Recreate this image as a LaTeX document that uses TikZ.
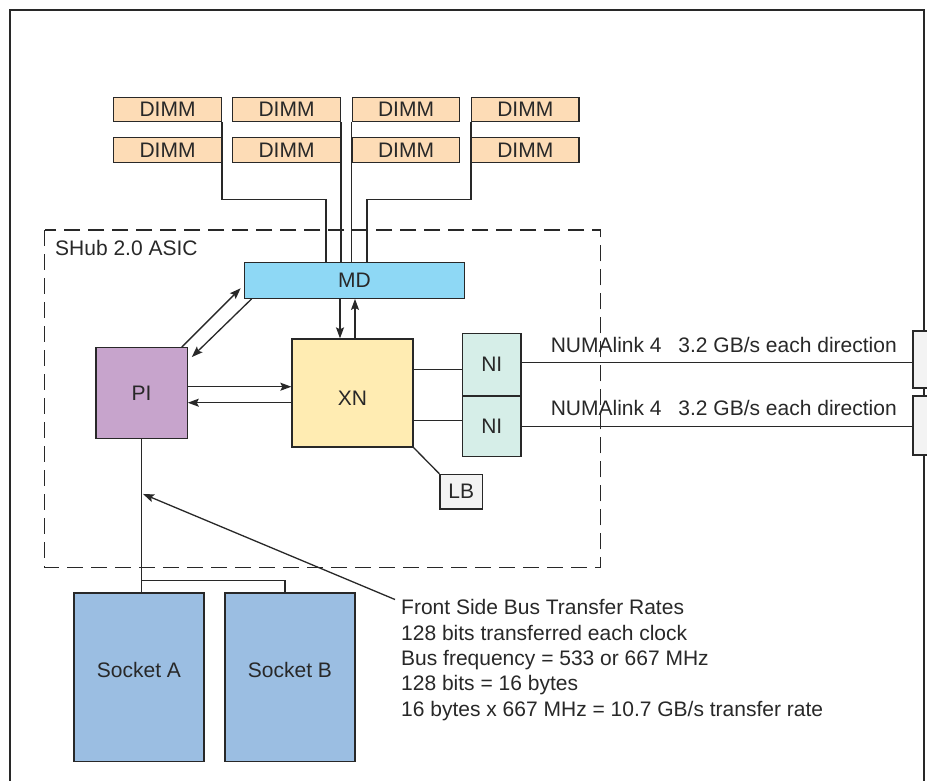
\documentclass[tikz,border=0pt]{standalone}
\usepackage{fontspec}
\setmainfont{Liberation Sans}
\usetikzlibrary{arrows.meta}

\definecolor{dimmfill}{RGB}{253,220,182}
\definecolor{mdfill}{RGB}{142,216,245}
\definecolor{pifill}{RGB}{199,164,204}
\definecolor{xnfill}{RGB}{255,236,178}
\definecolor{nifill}{RGB}{214,238,232}
\definecolor{lbfill}{RGB}{243,243,243}
\definecolor{sockfill}{RGB}{155,190,226}
\definecolor{ink}{RGB}{40,40,40}

\begin{document}
\begin{tikzpicture}[x=1pt, y=-1pt,
    every node/.style={font=\fontsize{21}{25.3}\selectfont, text=ink},
    box/.style={draw=ink, line width=1.3pt, inner sep=0pt},
    dimm/.style={box, fill=dimmfill, minimum width=107.5pt, minimum height=24.5pt},
    wire/.style={draw=ink, line width=1.3pt},
    arr/.style={wire, -{Stealth[length=11pt, width=8pt, inset=2pt]}}]
    \useasboundingbox (0,0) rectangle (927,780);
    \clip (0,0) rectangle (927,780);
    \fill[white] (0,0) rectangle (927,780);

    % outer frame
    \draw[ink, line width=1.4pt] (10,810) -- (10,10) -- (924,10) -- (924,810);

    % memory
    \node[dimm] (d11) at (167.5,109.5) {DIMM};
    \node[dimm] (d12) at (286.5,109.5) {DIMM};
    \node[dimm] (d13) at (406,109.5) {DIMM};
    \node[dimm] (d14) at (525.3,109.5) {DIMM};
    \node[dimm] (d21) at (167.5,150) {DIMM};
    \node[dimm] (d22) at (286.5,150) {DIMM};
    \node[dimm] (d23) at (406,150) {DIMM};
    \node[dimm] (d24) at (525.3,150) {DIMM};

    % the hub
    \draw[wire, dash pattern=on 16pt off 8pt] (44.7,230) rectangle (600.7,567.7);
    \node[anchor=west, inner sep=0pt] (asic) at (55,248) {SHub 2.0 ASIC};

    \node[box, fill=mdfill, minimum width=220.5pt, minimum height=35.5pt] (md) at (354.5,280.5) {MD};
    \node[box, fill=pifill, minimum width=91.3pt, minimum height=91pt] (pi) at (141.5,393.2) {PI};
    \node[box, fill=xnfill, minimum width=121pt, minimum height=108pt] (xn) at (352.5,393) {\raisebox{-5pt}[\height][\depth]{XN}};
    \node[box, fill=nifill, minimum width=58.3pt, minimum height=62.7pt] (ni1) at (491.8,364.7) {NI};
    \node[box, fill=nifill, minimum width=58.3pt, minimum height=60.7pt] (ni2) at (491.8,426.3) {NI};
    \node[box, fill=lbfill, minimum width=42.7pt, minimum height=34.7pt] (lb) at (461.3,491.7) {LB};
    \node[box, fill=lbfill, minimum width=30pt, minimum height=57pt] (r1) at (928,359.5) {};
    \node[box, fill=lbfill, minimum width=30pt, minimum height=59pt] (r2) at (928,425.5) {};

    % processors
    \node[box, fill=sockfill, minimum width=130pt, minimum height=168.3pt] (sa) at (139,677) {\raisebox{7pt}[\height][\depth]{Socket A}};
    \node[box, fill=sockfill, minimum width=130pt, minimum height=168.3pt] (sb) at (290,677) {\raisebox{7pt}[\height][\depth]{Socket B}};

    % DIMM buses
    \draw[wire] (d11.south east) -- ++(0,77.3) -| ([xshift=-28.5pt]md.north);
    \draw[wire] (d12.south east) -- (d12.south east |- md.north);
    \draw[wire] (d13.south west) -- (d13.south west |- md.north);
    \draw[wire] (d14.south west) -- ++(0,77.3) -| ([xshift=12.5pt]md.north);

    \draw[arr] ([xshift=-14.5pt]md.south) -- ([xshift=-14.5pt]md.south |- xn.north);
    \draw[arr] ([xshift=0.5pt]md.south |- xn.north) -- ([xshift=0.5pt]md.south);
    \draw[arr] ([xshift=-6pt]pi.north east) -- ([xshift=-3pt,yshift=-7.8pt]md.west);
    \draw[arr] ([xshift=8pt]md.south west) -- ([xshift=4pt,yshift=-10pt]pi.north east);
    \draw[arr] ([yshift=6.5pt]pi.east) -- ([yshift=6.5pt]pi.east -| xn.west);
    \draw[arr] ([yshift=-9.5pt]pi.east -| xn.west) -- ([yshift=-9.5pt]pi.east);

    \draw[wire] ([yshift=23.7pt]xn.east) -- ([yshift=23.7pt]xn.east -| ni1.west);
    \draw[wire] ([yshift=-27.7pt]xn.east) -- ([yshift=-27.7pt]xn.east -| ni2.west);
    \draw[wire] ([yshift=2pt]ni1.east) -- ([yshift=2pt]ni1.east -| r1.west);
    \draw[wire] (ni2.east) -- (ni2.east -| r2.west);
    \draw[wire] (xn.south east) -- (lb.north west);

    \node[anchor=base west, inner sep=0pt] (nl1) at ([xshift=29pt,yshift=12pt]ni1.east) {NUMAlink 4\hspace{0.8em}3.2 GB/s each direction};
    \node[anchor=base west, inner sep=0pt] (nl2) at ([xshift=29pt,yshift=11.3pt]ni2.east) {NUMAlink 4\hspace{0.8em}3.2 GB/s each direction};

    % front side bus
    \coordinate (fork) at ([yshift=-141.3pt]pi.south);
    \coordinate (tap) at ([xshift=1.5pt,yshift=-54.6pt]pi.south);
    \draw[wire] (pi.south) -- (pi.south |- sa.north);
    \draw[wire] (fork) -| ([xshift=-5pt]sb.north);

    \node[anchor=north west, align=left, inner sep=0pt] (fsb) at (401,599.5)
        {Front Side Bus Transfer Rates\\
         128 bits transferred each clock\\
         Bus frequency = 533 or 667 MHz\\
         128 bits = 16 bytes\\
         16 bytes x 667 MHz = 10.7 GB/s transfer rate};
    \draw[arr] ([xshift=-6pt]fsb.north west) -- (tap);
\end{tikzpicture}
\end{document}
